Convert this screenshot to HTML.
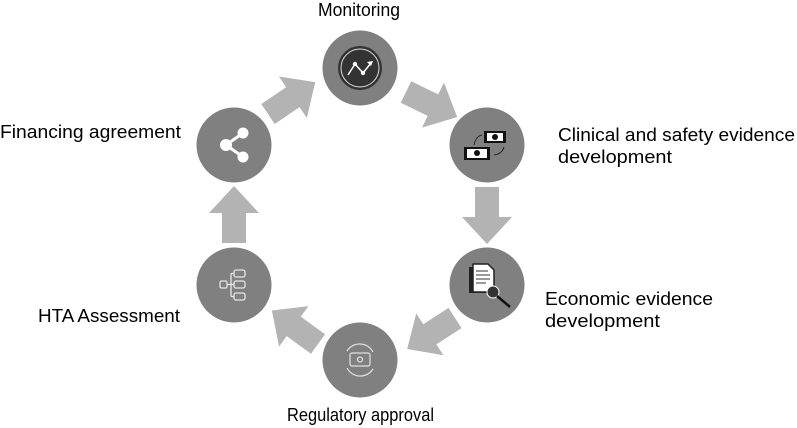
<!DOCTYPE html>
<html><head><style>
html,body{margin:0;padding:0;background:#fff;}
svg{display:block;}
text{font-family:"Liberation Sans",sans-serif;font-size:18.5px;fill:#000;}
</style></head><body>
<svg width="797" height="428" viewBox="0 0 797 428" xmlns="http://www.w3.org/2000/svg">
<defs>
<polygon id="arr" points="0,-12 30,-12 30,-25 57,0 30,25 30,12 0,12" fill="#b3b3b3"/>
</defs>
<use href="#arr" transform="translate(268,114) rotate(-34)"/>
<use href="#arr" transform="translate(406,92) rotate(26)"/>
<use href="#arr" transform="translate(487,187) rotate(90)"/>
<use href="#arr" transform="translate(455,318) rotate(147)"/>
<use href="#arr" transform="translate(318,344) rotate(-144)"/>
<use href="#arr" transform="translate(234,243) rotate(-90)"/>
<g fill="#808080">
<circle cx="360" cy="68" r="37.5"/>
<circle cx="487" cy="145" r="37.5"/>
<circle cx="487" cy="285" r="37.5"/>
<circle cx="360" cy="360" r="37.5"/>
<circle cx="234" cy="285" r="37.5"/>
<circle cx="234" cy="145" r="37.5"/>
</g>
<circle cx="360" cy="68" r="22" fill="#333"/>
<circle cx="360" cy="68" r="19" fill="none" stroke="#ddd" stroke-width="1"/>
<polyline points="348,75 355,64 363,73 371,63" fill="none" stroke="#fff" stroke-width="1.5"/>
<polygon points="373,61 367,62 371,66" fill="#fff"/>
<circle cx="355" cy="64" r="2.2" fill="#fff"/><circle cx="363" cy="73" r="2.2" fill="#fff"/>
<g fill="#fff"><circle cx="226" cy="145" r="6"/><circle cx="243" cy="133" r="5.5"/><circle cx="243" cy="157" r="5.5"/></g>
<polyline points="243,133 226,145 243,157" fill="none" stroke="#fff" stroke-width="3"/>
<rect x="484" y="131" width="22" height="12" fill="#111"/><rect x="487" y="133" width="16" height="8" fill="#fff"/><circle cx="495" cy="137" r="3" fill="#111"/>
<rect x="464" y="147" width="26" height="13" fill="#111"/><rect x="467" y="149" width="20" height="9" fill="#fff"/><circle cx="477" cy="153" r="3" fill="#111"/>
<path d="M474,145 Q476,136 482,135" fill="none" stroke="#111" stroke-width="0.8"/>
<path d="M504,147 Q502,154 494,155" fill="none" stroke="#111" stroke-width="0.8"/>
<rect x="469" y="267" width="18" height="26" fill="#222"/>
<polygon points="473,264 488,264 494,270 494,292 473,292" fill="#fff" stroke="#222" stroke-width="1.5"/>
<g stroke="#333" stroke-width="1"><line x1="476" y1="271" x2="488" y2="271"/><line x1="476" y1="275" x2="490" y2="275"/><line x1="476" y1="279" x2="490" y2="279"/><line x1="476" y1="283" x2="486" y2="283"/></g>
<circle cx="493" cy="292" r="6" fill="#333" stroke="#fff" stroke-width="1"/>
<line x1="497" y1="296" x2="510" y2="307" stroke="#111" stroke-width="2.5"/>
<g fill="none" stroke="#e0e0e0" stroke-width="1.2">
<rect x="350" y="353" width="20" height="13" rx="2"/><circle cx="360" cy="359.5" r="2.5"/>
<path d="M347,351 A15,15 0 0 1 373,352"/><path d="M373,369 A15,15 0 0 1 347,368"/>
</g>
<g fill="none" stroke="#e6e6e6" stroke-width="1.3">
<rect x="220" y="281" width="7" height="7" rx="1.5"/>
<rect x="234" y="270" width="11" height="7" rx="2"/><rect x="234" y="281" width="11" height="7" rx="2"/><rect x="234" y="293" width="11" height="7" rx="2"/>
<path d="M227,284.5 H231 M231,273.5 V296.5 M231,273.5 H234 M231,284.5 H234 M231,296.5 H234"/>
</g>
<text x="318" y="16" textLength="82" lengthAdjust="spacingAndGlyphs">Monitoring</text>
<text x="0" y="138" textLength="181" lengthAdjust="spacingAndGlyphs">Financing agreement</text>
<text x="558" y="141" textLength="237" lengthAdjust="spacingAndGlyphs">Clinical and safety evidence</text>
<text x="558" y="163" textLength="114" lengthAdjust="spacingAndGlyphs">development</text>
<text x="545" y="305" textLength="168" lengthAdjust="spacingAndGlyphs">Economic evidence</text>
<text x="545" y="327" textLength="115" lengthAdjust="spacingAndGlyphs">development</text>
<text x="38" y="322" textLength="142" lengthAdjust="spacingAndGlyphs">HTA Assessment</text>
<text x="287" y="421" textLength="147" lengthAdjust="spacingAndGlyphs">Regulatory approval</text>
</svg>
</body></html>
